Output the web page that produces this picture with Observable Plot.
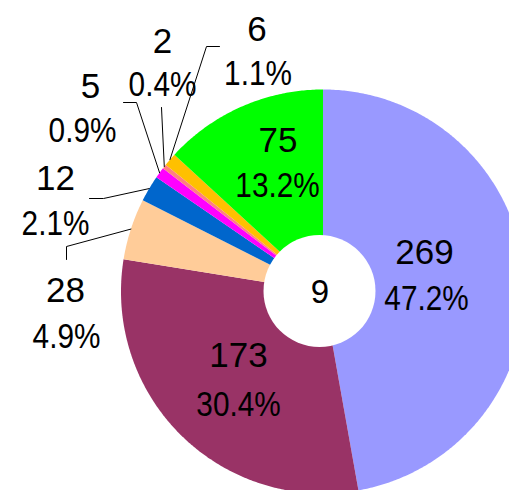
<!DOCTYPE html>
<html>
<head>
<meta charset="utf-8">
<script src="https://cdn.jsdelivr.net/npm/d3@7"></script>
<script src="https://cdn.jsdelivr.net/npm/@observablehq/plot@0.6"></script>
<style>
  html, body { margin: 0; padding: 0; background: #fff; overflow: hidden; }
  #chart svg { display: block; }
</style>
</head>
<body>
<div id="chart"></div>
<script>
// ---- data ----
const categories = ["A", "B", "C", "D", "E", "F", "G", "H"];
const values = [269, 173, 28, 12, 5, 2, 6, 75];
const colors = ["#9999FF", "#993366", "#FFCC99", "#0066CC", "#FF00FF", "#FF8080", "#FFC000", "#00FF00"];
const centerLabel = "9";

// ---- layout (pixels, relative to pie centre) ----
const W = 509, H = 490;
const cx = 322.5, cy = 291;         // pie centre in the picture
const R = 202;                      // outer radius
const holeR = 56, holeDx = -3.5, holeDy = -0.5;
// value-line and percent-line centres
const valuePos = [[101.5, -38.5], [-84.5, 64], [-257.5, -1], [-267.5, -113], [-232.5, -205], [-160.5, -250], [-66, -262], [-45, -150.5]];
const pctPos = [[103.5, 7.5], [-84.5, 113], [-256.5, 45], [-267.5, -68], [-240.5, -161], [-160.5, -207], [-65, -217.5], [-45.5, -105.5]];
// leader lines: null = label inside slice; otherwise elbow and end points
const leaders = [null, null,
  [[-256.5, -45], [-256.5, -32]],
  [[-219.5, -93], [-233.5, -93]],
  [[-186.5, -189], [-199.5, -189]],
  [[-161.5, -184]],
  [[-116.5, -245], [-103.5, -245]],
  null];

// ---- geometry from data ----
const total = d3.sum(values);
const pie = d3.pie().sort(null).value(d => d)(values);
const slicePts = [];
pie.forEach((p, i) => {
  const a0 = p.startAngle, a1 = p.endAngle;
  const n = Math.max(2, Math.ceil((a1 - a0) / (Math.PI / 360)));
  slicePts.push({k: categories[i], x: 0, y: 0});
  for (let j = 0; j <= n; j++) {
    const a = a0 + (a1 - a0) * j / n;
    slicePts.push({k: categories[i], x: R * Math.sin(a), y: -R * Math.cos(a)});
  }
});

const valueLabels = values.map((v, i) => ({x: valuePos[i][0], y: valuePos[i][1], text: `${v}`}));
const pctLabels = values.map((v, i) => ({x: pctPos[i][0], y: pctPos[i][1], text: `${(v / total * 100).toFixed(1)}%`}));

const leaderPts = [];
pie.forEach((p, i) => {
  if (!leaders[i]) return;
  const a = (p.startAngle + p.endAngle) / 2;
  leaderPts.push({k: categories[i], x: R * Math.sin(a), y: -R * Math.cos(a)});
  leaders[i].forEach(([x, y]) => leaderPts.push({k: categories[i], x, y}));
});

const font = "'Liberation Sans', Arial, sans-serif";

const chart = Plot.plot({
  width: W, height: H,
  margin: 0,
  x: {type: "linear", domain: [-cx, W - cx], range: [0, W], axis: null},
  y: {type: "linear", domain: [-cy, H - cy], range: [0, H], axis: null},
  color: {domain: categories, range: colors},
  style: {background: "white", fontFamily: font},
  marks: [
    Plot.line(slicePts, {x: "x", y: "y", z: "k", fill: "k", stroke: "none", curve: "linear-closed"}),
    Plot.dot([{x: holeDx, y: holeDy}], {x: "x", y: "y", r: holeR, fill: "white", stroke: "none"}),
    Plot.line(leaderPts, {x: "x", y: "y", z: "k", stroke: "black", strokeWidth: 1}),
    Plot.text(valueLabels, {x: "x", y: "y", text: "text", fontSize: 35, fill: "black", fontFamily: font}),
    Plot.text(pctLabels, {x: "x", y: "y", text: "text", fontSize: 35, fill: "black", fontFamily: font}),
    Plot.text([{x: -3, y: 1, t: centerLabel}], {x: "x", y: "y", text: "t", fontSize: 33, fill: "black", fontFamily: font})
  ]
});

// compress the percentage lines horizontally (narrow glyphs in the original)
const textGroups = chart.querySelectorAll('g[aria-label="text"]');
if (textGroups.length >= 2) {
  textGroups[1].querySelectorAll("text").forEach(t => {
    const tr = t.getAttribute("transform");
    if (tr) {
      t.setAttribute("transform", tr + " scale(0.85,1)");
    } else {
      const x = +t.getAttribute("x") || 0, y = +t.getAttribute("y") || 0;
      t.removeAttribute("x"); t.removeAttribute("y");
      t.setAttribute("transform", `translate(${x},${y}) scale(0.85,1)`);
    }
  });
}

document.getElementById("chart").appendChild(chart);
</script>
</body>
</html>
